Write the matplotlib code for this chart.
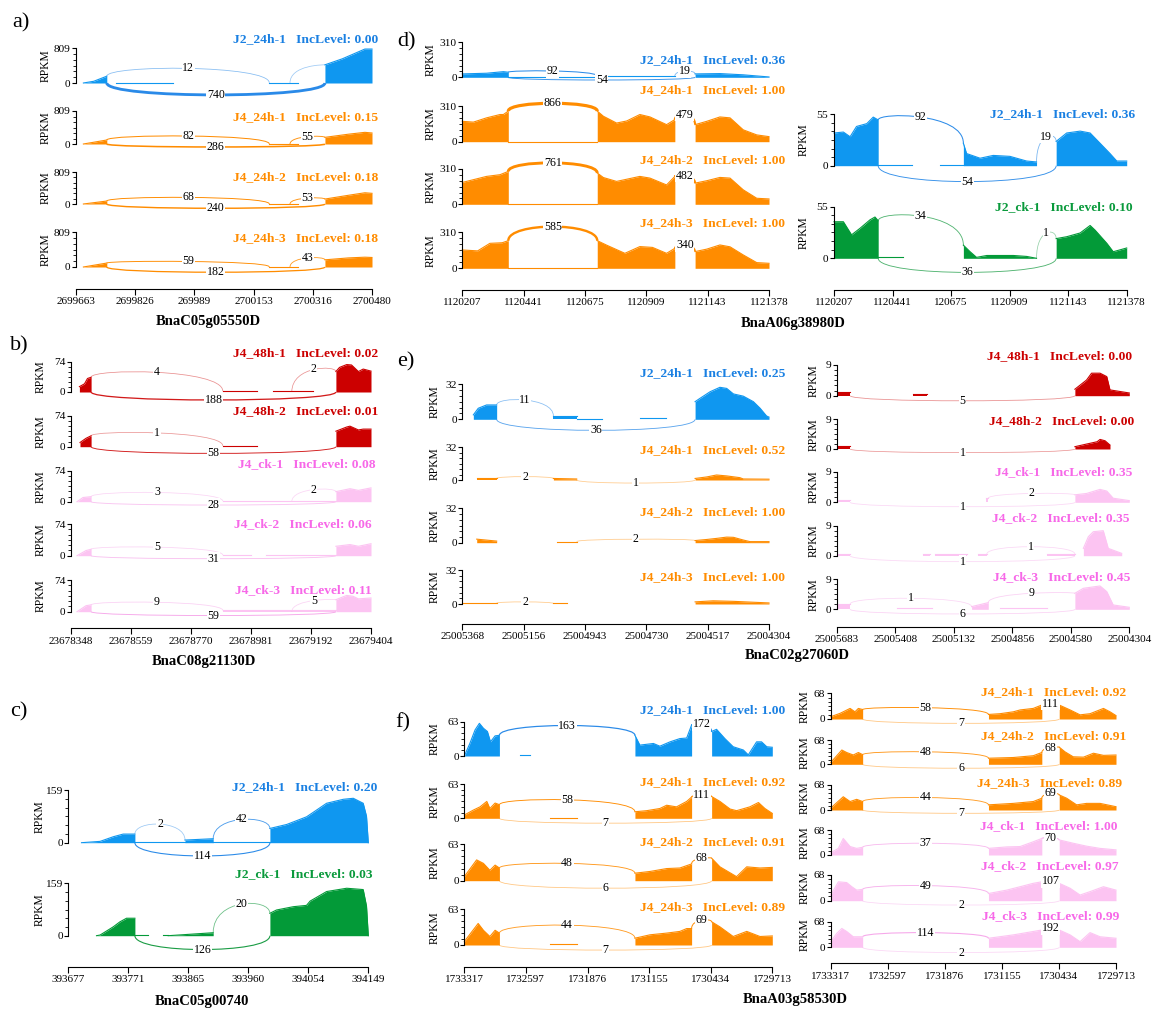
import numpy as np
import matplotlib
matplotlib.use("Agg")
import matplotlib.pyplot as plt
from matplotlib.path import Path
from matplotlib.patches import PathPatch

plt.rcParams['font.family'] = ['Liberation Serif', 'DejaVu Serif']

W, H = 1153, 1009

# ---------------------------------------------------------------------------
# data; x in percent of each panel's genomic window,
# coverage in RPKM as [(x, rpkm), ...] per exon block,
# junctions as (donor_x, acceptor_x, reads, arc_peak_rpkm)
# ---------------------------------------------------------------------------

# a) BnaC05g05550D
a_ticks = ['2699663', '2699826', '269989', '2700153', '2700316', '2700480']
a_samples = ['J2_24h-1', 'J4_24h-1', 'J4_24h-2', 'J4_24h-3']
a_inc = ['0.00', '0.15', '0.18', '0.18']
a_ymax = 809
a1_cov = [[(2.5, 0), (6, 40), (10.4, 157)], [(13.5, 3), (32.9, 3)], [(65.3, 3), (74.9, 3)],
          [(84.1, 420), (90, 560), (97.6, 785), (100, 785)]]
a1_junc = [(10.4, 65.3, 12, 338), (72.3, 84.1, None, 370), (10.4, 84.1, 740, -275)]
a2_cov = [[(2.5, 0), (10.4, 98)], [(65.3, 3), (74.9, 3)], [(84.1, 163), (92, 240), (97.6, 286), (100, 270)]]
a2_junc = [(10.4, 65.3, 82, 196), (72.3, 84.1, 55, 180), (10.4, 84.1, 286, -73)]
a3_cov = [[(2.5, 0), (10.4, 75)], [(65.3, 3), (74.9, 3)], [(84.1, 125), (92, 220), (97.6, 284), (100, 270)]]
a3_junc = [(10.4, 65.3, 68, 167), (72.3, 84.1, 53, 150), (10.4, 84.1, 240, -108)]
a4_cov = [[(2.5, 0), (10.4, 91)], [(65.3, 3), (74.9, 3)], [(84.1, 166), (92, 210), (97.6, 227), (100, 220)]]
a4_junc = [(10.4, 65.3, 59, 128), (72.3, 84.1, 43, 210), (10.4, 84.1, 182, -121)]

# b) BnaC08g21130D
b_ticks = ['23678348', '23678559', '23678770', '23678981', '23679192', '23679404']
b_samples = ['J4_48h-1', 'J4_48h-2', 'J4_ck-1', 'J4_ck-2', 'J4_ck-3']
b_inc = ['0.02', '0.01', '0.08', '0.06', '0.11']
b_ymax = 74
b1_cov = [[(2.8, 13), (4.5, 20), (5.5, 33), (6.7, 36)], [(50.6, 2), (61.9, 2)], [(67.4, 2), (80.8, 2)],
          [(88.3, 50), (89.5, 60), (91.9, 67), (93.5, 66), (95.8, 50), (97.4, 56), (100, 51)]]
b1_junc = [(6.7, 50.6, 4, 48), (73.6, 88.3, 2, 55), (6.7, 88.3, 188, -19.5)]
b2_cov = [[(3, 10), (5, 20), (6.7, 26)], [(50.6, 2), (61.9, 2)],
          [(88.3, 37), (91.9, 47), (93, 49), (95.8, 40), (97.4, 42), (100, 42)]]
b2_junc = [(6.7, 50.6, 1, 33), (6.7, 88.3, 58, -16)]
b3_cov = [[(2, 0), (4, 10), (6.7, 12)], [(50.6, 1.5), (88.3, 1.5)], [(88.3, 24), (93, 31), (95.8, 27), (100, 33)]]
b3_junc = [(6.7, 50.6, 3, 22), (73.6, 88.3, 2, 29), (6.7, 88.3, 28, -8)]
b4_cov = [[(2, 0), (5, 12), (6.7, 15)], [(50.6, 1.5), (60, 1.5)], [(65, 1.5), (88.3, 1.5)],
          [(88.3, 22), (93, 26), (95.8, 22), (100, 28)]]
b4_junc = [(6.7, 50.6, 5, 20), (6.7, 88.3, 31, -7)]
b5_cov = [[(2, 0), (5, 14), (6.7, 16)], [(50.6, 3), (88.3, 3)],
          [(88.3, 28), (91.9, 38), (94, 36), (95.8, 30), (100, 32)]]
b5_junc = [(6.7, 50.6, 9, 22), (73.6, 88.3, 5, 26), (6.7, 88.3, 59, -9)]

# c) BnaC05g00740
c_ticks = ['393677', '393771', '393865', '393960', '394054', '394149']
c_samples = ['J2_24h-1', 'J2_ck-1']
c_inc = ['0.20', '0.03']
c_ymax = 159
c1_cov = [[(4.4, 0), (10.6, 4), (15, 18), (18.3, 26), (22.2, 26)], [(22.2, 1), (38.9, 1)],
          [(38.9, 8), (48.3, 12)], [(48.3, 1), (67.2, 1)],
          [(67.2, 43), (72.8, 55), (79.4, 78), (81.7, 92), (86.1, 119), (91.7, 131), (95, 134),
           (98.3, 119), (99.4, 80), (100, 0)]]
c1_junc = [(22.2, 38.9, 2, 56), (48.3, 67.2, 42, 70), (22.2, 67.2, 114, -40)]
c2_cov = [[(9.4, 0), (10.6, 2), (15, 27), (17.2, 42), (19.4, 53), (22.2, 53)], [(22.2, 1), (26.7, 1)],
          [(31.7, 1), (33.3, 1)], [(33.3, 0), (48.3, 9)],
          [(67.2, 68), (69.4, 78), (75, 88), (79.4, 92), (80.6, 105), (86.1, 134), (92.8, 144),
           (98.3, 140), (99.4, 90), (100, 0)]]
c2_junc = [(48.3, 67.2, 20, 96), (22.2, 67.2, 126, -42)]

# d) BnaA06g38980D, left
dl_ticks = ['1120207', '1120441', '1120675', '1120909', '1121143', '1121378']
dl_samples = ['J2_24h-1', 'J4_24h-1', 'J4_24h-2', 'J4_24h-3']
dl_inc = ['0.36', '1.00', '1.00', '1.00']
dl_ymax = 310
dl1_cov = [[(0, 30), (7.9, 36), (13.4, 50), (15, 45)], [(15, 2), (44, 2)], [(44, 12), (69.3, 12)],
           [(75.9, 30), (84, 33), (91.6, 22), (100, 3)]]
dl1_junc = [(15, 44, 92, 56), (69.3, 75.9, 19, 56), (15, 75.9, 54, -24)]
dl2_cov = [[(0, 177), (3.6, 170), (7.9, 207), (12.3, 236), (13.4, 236), (15, 266)], [(15, 1), (44, 1)],
           [(44, 266), (46, 221), (50.3, 162), (53.6, 180), (57.9, 236), (61.2, 215), (66.6, 148), (69.3, 192)],
           [(75.9, 148), (79.7, 177), (84, 215), (87.3, 207), (91.6, 103), (96, 59), (100, 44)]]
dl2_junc = [(15, 44, 866, 334), (69.3, 75.9, 479, 236)]
dl3_cov = [[(0, 192), (7.9, 245), (12.3, 260), (15, 289)], [(15, 1), (44, 1)],
           [(44, 275), (46, 235), (50.3, 201), (57.9, 245), (61.2, 230), (66.6, 170), (69.3, 245)],
           [(75.9, 186), (79.7, 207), (84, 236), (87.3, 230), (91.6, 127), (96, 53), (100, 47)]]
dl3_junc = [(15, 44, 761, 364), (69.3, 75.9, 482, 251)]
dl4_cov = [[(0, 158), (5, 150), (9, 215), (13, 220), (15, 238)], [(15, 1), (44, 1)],
           [(44, 238), (47, 200), (53, 129), (57.9, 187), (62, 180), (66.6, 129), (69.3, 172)],
           [(75.9, 144), (79.7, 165), (84, 201), (87.3, 185), (91.6, 115), (96, 49), (100, 43)]]
dl4_junc = [(15, 44, 585, 359), (69.3, 75.9, 340, 201)]

# d) right
dr_ticks = ['1120207', '1120441', '120675', '1120909', '1121143', '1121378']
dr_samples = ['J2_24h-1', 'J2_ck-1']
dr_inc = ['0.36', '0.10']
dr_ymax = 55
dr1_cov = [[(0, 35), (3.2, 36), (5.5, 31), (7.7, 42), (11.2, 45), (13.4, 52), (15.1, 49)],
           [(15.1, 1), (26.5, 1)], [(36.2, 1), (44.2, 1)],
           [(44.2, 24), (45.3, 13), (49.9, 8), (54.4, 11), (60.1, 10), (65.8, 5), (69.2, 4)],
           [(75.9, 26), (79.5, 35), (84.1, 37), (87.5, 35), (90.9, 24), (94.3, 13), (96.6, 5), (100, 5)]]
dr1_junc = [(15.1, 44.2, 92, 52), (69.2, 75.9, 19, 31), (15.1, 75.9, 54, -17)]
dr2_cov = [[(0, 39), (3.2, 39), (6, 25), (8.9, 32), (12.3, 41), (14, 44), (15.1, 40)], [(15.1, 1), (23.7, 1)],
           [(44.2, 14), (46.5, 7), (48.7, 1), (52.2, 3), (61.3, 3), (65.8, 2), (69.2, 0)],
           [(75.9, 21), (79.5, 23), (84.1, 27), (87.5, 35), (89.2, 30), (93.2, 16), (95.4, 7), (100, 11)]]
dr2_junc = [(15.1, 44.2, 34, 45), (69.2, 75.9, 1, 27), (15.1, 75.9, 36, -15)]

# e) BnaC02g27060D, left
el_ticks = ['25005368', '25005156', '25004943', '25004730', '25004517', '25004304']
el_samples = ['J2_24h-1', 'J4_24h-1', 'J4_24h-2', 'J4_24h-3']
el_inc = ['0.25', '0.52', '1.00', '1.00']
el_ymax = 32
el1_cov = [[(3.6, 4), (5.2, 10), (7.9, 13), (11.2, 13)], [(29.7, 3), (37.3, 3)], [(37.3, 0.5), (45.4, 0.5)],
           [(57.9, 1), (66.3, 1)],
           [(75.9, 16), (77.5, 19), (80.8, 25), (84, 29), (86.2, 28), (88.4, 23), (91.6, 21), (94.9, 16),
            (97.1, 10), (99.2, 3), (100, 2)]]
el1_junc = [(11.2, 29.7, 11, 17.5), (11.2, 75.9, 36, -10)]
el2_cov = [[(4.7, 1.6), (11.2, 1.6)], [(29.7, 1.5), (37.3, 1)],
           [(75.9, 1.5), (79.7, 3), (82.9, 4.9), (86.2, 4), (90.5, 2.3), (91.6, 1), (100, 0.8)]]
el2_junc = [(11.2, 29.7, 2, 3.3), (37.3, 75.9, 1, -3)]
el3_cov = [[(4.7, 3.3), (11.2, 1.5)], [(30.8, 1), (37.3, 1)],
           [(75.9, 2), (79.7, 3), (82.9, 4), (86.2, 5.2), (88.4, 5), (91.6, 2.5), (93.8, 1), (100, 1)]]
el3_junc = [(37.3, 75.9, 2, 3.3)]
el4_cov = [[(0, 0.8), (11.2, 0.8)], [(29.7, 0.5), (34, 0.5)], [(75.9, 2), (81.8, 3), (88.4, 2.5), (100, 1)]]
el4_junc = [(11.2, 29.7, 2, 2)]

# e) right
er_ticks = ['25005683', '25005408', '25005132', '25004856', '25004580', '25004304']
er_samples = ['J4_48h-1', 'J4_48h-2', 'J4_ck-1', 'J4_ck-2', 'J4_ck-3']
er_inc = ['0.00', '0.00', '0.35', '0.35', '0.45']
er_ymax = 9
er1_cov = [[(0, 1), (4.6, 1)], [(26, 0.4), (31, 0.4)],
           [(81.4, 1.9), (85.4, 4.6), (87.1, 6.6), (90, 6.6), (92.3, 5.6), (93.4, 1.7), (100, 0.8)]]
er1_junc = [(4.6, 81.4, 5, -1.5)]
er2_cov = [[(0, 0.8), (4.6, 0.8)], [(81.4, 0.7), (85.4, 1.5), (89, 2.2), (90, 2.9), (91.7, 2.5), (93.4, 1.2)]]
er2_junc = [(4.6, 81.4, 1, -1.1)]
er3_cov = [[(0, 0.7), (4.6, 0.7)], [(51, 1.2), (51.8, 1.2)],
           [(81.4, 2.2), (85.4, 2.6), (90, 3.8), (92.3, 3.3), (94.5, 1.2), (100, 0.5)]]
er3_junc = [(51.8, 81.4, 2, 2.6), (4.6, 81.4, 1, -1.3)]
er4_cov = [[(0, 0.5), (4.6, 0.5)], [(29.6, 0.4), (31.9, 0.4)], [(33.6, 0.6), (44.4, 0.6)],
           [(48.4, 0.5), (51.3, 0.5)], [(71.8, 0.5), (81.4, 0.5)],
           [(84.3, 2.2), (86, 5.7), (87.7, 7.2), (91.1, 7.5), (92.8, 2.2), (97.4, 0.7)]]
er4_junc = [(51.3, 81.4, 1, 2.7), (4.6, 81.4, 1, -1.8)]
er5_cov = [[(0, 1.6), (4.6, 1.6)], [(20.5, 0.5), (32.5, 0.5)], [(46.1, 0.8), (51.8, 2)], [(55.8, 0.5), (71.8, 0.5)],
           [(81.4, 4.8), (84.3, 6.3), (90, 7), (92.3, 5.3), (94.5, 1.3), (100, 0.6)]]
er5_junc = [(4.6, 46.1, 1, 3.3), (51.8, 81.4, 9, 4.8), (4.6, 81.4, 6, -1.4)]

# f) BnaA03g58530D, left
fl_ticks = ['1733317', '1732597', '1731876', '1731155', '1730434', '1729713']
fl_samples = ['J2_24h-1', 'J4_24h-1', 'J4_24h-2', 'J4_24h-3']
fl_inc = ['1.00', '0.92', '0.91', '0.89']
fl_ymax = 63
fl1_cov = [[(0, 0), (1.8, 23), (3.5, 48), (4.9, 60), (6.2, 51), (7.5, 45), (8.5, 26), (10, 37), (11.4, 38)],
           [(18.1, 2), (21.3, 2)],
           [(55.4, 38), (57, 20), (61.4, 23), (63.5, 18), (66.8, 26), (70, 32), (72.2, 33), (73.8, 57)],
           [(80.3, 45), (81.9, 49), (84.6, 32), (87.3, 17), (90.6, 11), (92.2, 2), (94.9, 26), (96.5, 26),
            (98.2, 17), (100, 16)]]
fl1_junc = [(11.4, 55.4, 163, 56), (73.8, 80.3, 172, 58)]
fl2_cov = [[(0, 6), (2.9, 15), (5.1, 21), (7.3, 31), (8.3, 18), (10, 28), (11.4, 25)], [(27.8, 1), (36.5, 1)],
           [(55.4, 12), (59.2, 14), (63.5, 18), (65.7, 24), (68.9, 21), (72.2, 31), (73.8, 39)],
           [(80.3, 40), (83, 31), (86.3, 17), (88.4, 14), (92.7, 21), (95.5, 29), (97.6, 18), (100, 9)]]
fl2_junc = [(11.4, 55.4, 58, 34), (73.8, 80.3, 111, 43), (11.4, 80.3, 7, -9)]
fl3_cov = [[(0, 7), (4, 36), (6.2, 30), (8.3, 18), (10, 27), (11.4, 22)],
           [(55.4, 13), (60.3, 16), (65.7, 21), (70, 22), (73.8, 29)],
           [(80.3, 39), (83, 24), (88.4, 7), (91.7, 24), (96, 22), (100, 23)]]
fl3_junc = [(11.4, 55.4, 48, 30), (73.8, 80.3, 68, 39), (11.4, 80.3, 6, -13)]
fl4_cov = [[(0, 6), (4.5, 38), (6.2, 26), (8.3, 15), (10, 26), (11.4, 21)], [(27.8, 1), (36.5, 1)],
           [(55.4, 12), (60.3, 18), (65.7, 21), (70, 24), (72.2, 29), (73.8, 29)],
           [(80.3, 41), (83, 32), (87.3, 15), (91.7, 24), (96, 15), (100, 16)]]
fl4_junc = [(11.4, 55.4, 44, 35), (73.8, 80.3, 69, 44), (11.4, 80.3, 7, -9)]

# f) right
fr_ticks = ['1733317', '1732597', '1731876', '1731155', '1730434', '1729713']
fr_samples = ['J4_24h-1', 'J4_24h-2', 'J4_24h-3', 'J4_ck-1', 'J4_ck-2', 'J4_ck-3']
fr_inc = ['0.92', '0.91', '0.89', '1.00', '0.97', '0.99']
fr_ymax = 68
fr1_cov = [[(0, 6), (3.3, 15), (6.8, 28), (8.5, 19), (9.7, 28), (11.2, 25)],
           [(55.3, 12), (59.3, 14), (64, 19), (66.4, 24), (71, 28), (74, 37)],
           [(80.1, 37), (83.9, 24), (87.4, 11), (90.9, 14), (95.6, 28), (97.9, 19), (100, 9)]]
fr1_junc = [(11.2, 55.3, 58, 30), (74, 80.1, 111, 41), (11.2, 80.1, 7, -11.5)]
fr2_cov = [[(0, 5), (3.9, 40), (5.6, 33), (7.9, 26), (9.7, 33), (11.2, 27)],
           [(55.3, 17), (64, 19), (71, 24), (74, 33)],
           [(80.1, 48), (82.1, 35), (85, 21), (88.6, 20), (92.1, 31), (95.6, 25), (100, 26)]]
fr2_junc = [(11.2, 55.3, 48, 35), (74, 80.1, 68, 47), (11.2, 80.1, 6, -11)]
fr3_cov = [[(0, 5), (4.4, 36), (6.8, 23), (9.1, 29), (11.2, 23)],
           [(55.3, 14), (64, 18), (71, 23), (74, 32)],
           [(80.1, 41), (82.7, 32), (86.2, 14), (89.7, 18), (94.4, 18), (100, 9)]]
fr3_junc = [(11.2, 55.3, 44, 34), (74, 80.1, 69, 45), (11.2, 80.1, 7, -9)]
fr4_cov = [[(0, 6), (2.7, 18), (4.4, 45), (6.8, 23), (9.1, 18), (11.2, 21)],
           [(55.3, 18), (61.7, 22), (66.4, 23), (71, 36), (74, 45)],
           [(80.1, 41), (85, 32), (89.7, 24), (94.4, 18), (100, 14)]]
fr4_junc = [(11.2, 55.3, 37, 32), (74, 80.1, 70, 47)]
fr5_cov = [[(0, 15), (2.7, 50), (5.6, 48), (7.4, 37), (9.1, 28), (11.2, 30)],
           [(55.3, 19), (61.7, 28), (66.4, 37), (71, 46), (74, 50)],
           [(80.1, 46), (83.9, 33), (87.4, 15), (90.9, 24), (95.6, 37), (100, 28)]]
fr5_junc = [(11.2, 55.3, 49, 40), (74, 80.1, 107, 52), (11.2, 80.1, 2, -11.5)]
fr6_cov = [[(0, 15), (2.1, 37), (3.9, 50), (5.6, 42), (7.9, 28), (11.2, 28)],
           [(55.3, 24), (64, 33), (71, 42), (74, 46)],
           [(80.1, 46), (83.9, 33), (87.4, 15), (90.9, 39), (94.4, 28), (100, 24)]]
fr6_junc = [(11.2, 55.3, 114, 39), (74, 80.1, 192, 50), (11.2, 80.1, 2, -14)]

# colours per sample group: fill, title, arcs
STYLE = {
    'J2_24h': ('#0f97f0', '#1a80e2', '#2a8ae8'),
    'J4_24h': ('#ff8c00', '#ff8c00', '#ff8c00'),
    'J4_48h': ('#cc0000', '#cc0000', '#d21a1a'),
    'J4_ck': ('#fcc4f2', '#f768e8', '#f6a8ea'),
    'J2_ck': ('#039a38', '#0a9a3c', '#1a9c44'),
}

fig = plt.figure(figsize=(W / 100, H / 100), dpi=100)


def px_axes(l, t, r, b):
    return fig.add_axes([l / W, 1 - b / H, (r - l) / W, (b - t) / H])


def cov_at(cov, x):
    hs = [s[-1][1] for s in cov if abs(s[-1][0] - x) < 0.8]
    hs += [s[0][1] for s in cov if abs(s[0][0] - x) < 0.8]
    return max(hs) if hs else 0


def draw_track(ax, cov, junc, fill, arc):
    for seg in cov:
        xs = [p[0] for p in seg]
        ys = [p[1] for p in seg]
        ax.fill_between(xs, 0, ys, color=fill, lw=0, clip_on=False)
        ax.plot(xs, ys, color=fill, lw=0.8, clip_on=False)
    for x1, x2, n, peak in junc:
        if peak > 0:
            y1, y2 = cov_at(cov, x1), cov_at(cov, x2)
        else:
            y1 = y2 = 0
        c = (peak - (y1 + y2) / 8) * 4 / 3
        path = Path([(x1, y1), (x1, c), (x2, c), (x2, y2)],
                    [Path.MOVETO, Path.CURVE4, Path.CURVE4, Path.CURVE4])
        k = n if n else 1
        lw = min(2.3, 0.55 + k / 500)
        alpha = 0.45 + 0.55 * min(1, k / 60)
        ax.add_patch(PathPatch(path, fill=False, ec=arc, lw=lw, alpha=alpha, clip_on=False))
        if n is not None:
            ax.text((x1 + x2) / 2, peak, str(n), ha='center', va='center', fontsize=8.6,
                    clip_on=False, zorder=5,
                    bbox=dict(boxstyle='square,pad=0.05', fc='white', ec='none'))


def draw_panel(lay, samples, inc, ymax, covs, juncs, ticks):
    l, r = lay['left'], lay['right']
    for i, (top, zero) in enumerate(lay['tracks']):
        ax = px_axes(l, top, r, zero)
        ax.set_facecolor('none')
        ax.set_xlim(0, 100)
        ax.set_ylim(0, ymax)
        fill, tcol, arc = STYLE[samples[i].rsplit('-', 1)[0]]
        draw_track(ax, covs[i], juncs[i], fill, arc)
        for s in ['top', 'right', 'bottom']:
            ax.spines[s].set_visible(False)
        ax.spines['left'].set_linewidth(0.8)
        ax.set_xticks([])
        ax.set_yticks([0, ymax])
        ax.set_yticklabels(['0', str(ymax)])
        ax.set_yticks(np.linspace(0, ymax, 7), minor=True)
        ax.tick_params(axis='y', which='major', length=3, width=0.8, pad=1, labelsize=8.2)
        ax.tick_params(axis='y', which='minor', length=2, width=0.6)
        ax.set_ylabel('RPKM', fontsize=8.4)
        ax.yaxis.set_label_coords(-lay['ylab'] / (r - l), 0.5)
        tr = lay['tright'][i] if isinstance(lay['tright'], list) else lay['tright']
        fig.text(tr / W, 1 - lay['ty'][i] / H, f'{samples[i]}   IncLevel: {inc[i]}',
                 ha='right', va='center', color=tcol, fontsize=9.7, fontweight='bold')
    xa = lay['xaxis']
    axx = px_axes(l, xa - 10, r, xa)
    axx.set_facecolor('none')
    axx.set_xlim(0, 100)
    for s in ['top', 'right', 'left']:
        axx.spines[s].set_visible(False)
    axx.spines['bottom'].set_linewidth(0.8)
    axx.set_yticks([])
    axx.set_xticks([0, 20, 40, 60, 80, 100])
    axx.set_xticklabels(ticks)
    axx.tick_params(axis='x', length=4, width=0.8, pad=2, labelsize=8)


lay_a = dict(left=76, right=372, tracks=[(48, 83), (111, 144), (172, 204), (232, 267)], xaxis=289,
             tright=378, ty=[39, 117, 177, 238], ylab=24)
lay_b = dict(left=71, right=371, tracks=[(361.7, 392), (415.7, 446.7), (470.7, 501.7), (524, 555.7), (580, 611.7)],
             xaxis=628.3, tright=[378, 378, 376, 372, 372], ty=[353, 410.7, 464, 524, 590], ylab=24)
lay_c = dict(left=68.3, right=368.3, tracks=[(790, 842.7), (883.3, 935.7)], xaxis=966.7,
             tright=[377.7, 373], ty=[786.7, 874.3], ylab=23)
lay_dl = dict(left=462.3, right=769, tracks=[(42.3, 77.3), (106, 141.7), (169, 204.3), (232.3, 268.3)], xaxis=290,
              tright=785, ty=[60, 90, 160, 223.3], ylab=26)
lay_dr = dict(left=834, right=1126.7, tracks=[(114.3, 165.7), (206.7, 258.3)], xaxis=290,
              tright=[1135, 1133], ty=[114.3, 206.7], ylab=24)
lay_el = dict(left=462.3, right=769, tracks=[(384, 419.3), (447.3, 480), (508.3, 542.7), (570, 604)], xaxis=624,
              tright=785, ty=[372.7, 450, 511.7, 576.7], ylab=22)
lay_er = dict(left=836.7, right=1129.3,
              tracks=[(365, 395.7), (419.3, 449), (471.7, 502.3), (525.7, 555.7), (579.3, 609.3)], xaxis=626.7,
              tright=[1132, 1134, 1132, 1130, 1130], ty=[356, 420.7, 471.7, 518.3, 576.7], ylab=17)
lay_fl = dict(left=464.3, right=772.3, tracks=[(721.7, 756), (784, 818.3), (844.3, 880.7), (909.3, 945)],
              xaxis=966.7, tright=785, ty=[710, 782, 841.7, 906.7], ylab=23.6)
lay_fr = dict(left=830.7, right=1116,
              tracks=[(693.3, 719), (740, 764.3), (785, 810), (830, 855), (875, 900.7), (921.7, 947.3)],
              xaxis=963.3, tright=[1126, 1126, 1122, 1117, 1119, 1119],
              ty=[691.7, 736, 782.7, 825.7, 866, 916], ylab=20)

draw_panel(lay_a, a_samples, a_inc, a_ymax, [a1_cov, a2_cov, a3_cov, a4_cov],
           [a1_junc, a2_junc, a3_junc, a4_junc], a_ticks)
draw_panel(lay_b, b_samples, b_inc, b_ymax, [b1_cov, b2_cov, b3_cov, b4_cov, b5_cov],
           [b1_junc, b2_junc, b3_junc, b4_junc, b5_junc], b_ticks)
draw_panel(lay_c, c_samples, c_inc, c_ymax, [c1_cov, c2_cov], [c1_junc, c2_junc], c_ticks)
draw_panel(lay_dl, dl_samples, dl_inc, dl_ymax, [dl1_cov, dl2_cov, dl3_cov, dl4_cov],
           [dl1_junc, dl2_junc, dl3_junc, dl4_junc], dl_ticks)
draw_panel(lay_dr, dr_samples, dr_inc, dr_ymax, [dr1_cov, dr2_cov], [dr1_junc, dr2_junc], dr_ticks)
draw_panel(lay_el, el_samples, el_inc, el_ymax, [el1_cov, el2_cov, el3_cov, el4_cov],
           [el1_junc, el2_junc, el3_junc, el4_junc], el_ticks)
draw_panel(lay_er, er_samples, er_inc, er_ymax, [er1_cov, er2_cov, er3_cov, er4_cov, er5_cov],
           [er1_junc, er2_junc, er3_junc, er4_junc, er5_junc], er_ticks)
draw_panel(lay_fl, fl_samples, fl_inc, fl_ymax, [fl1_cov, fl2_cov, fl3_cov, fl4_cov],
           [fl1_junc, fl2_junc, fl3_junc, fl4_junc], fl_ticks)
draw_panel(lay_fr, fr_samples, fr_inc, fr_ymax, [fr1_cov, fr2_cov, fr3_cov, fr4_cov, fr5_cov, fr6_cov],
           [fr1_junc, fr2_junc, fr3_junc, fr4_junc, fr5_junc, fr6_junc], fr_ticks)

# gene names and panel letters
for name, x, y in [('BnaC05g05550D', 208, 322), ('BnaC08g21130D', 204, 662), ('BnaC05g00740', 202, 1001),
                   ('BnaA06g38980D', 793, 323), ('BnaC02g27060D', 797, 655), ('BnaA03g58530D', 795, 999)]:
    fig.text(x / W, 1 - y / H, name, ha='center', va='center', fontsize=10.5, fontweight='bold')
for lab, x, y in [('a)', 12, 23), ('b)', 10, 346), ('c)', 10, 712), ('d)', 397, 42), ('e)', 397, 362),
                  ('f)', 395, 723)]:
    fig.text(x / W, 1 - y / H, lab, ha='left', va='center', fontsize=16)

fig.savefig('out.png', dpi=100)
